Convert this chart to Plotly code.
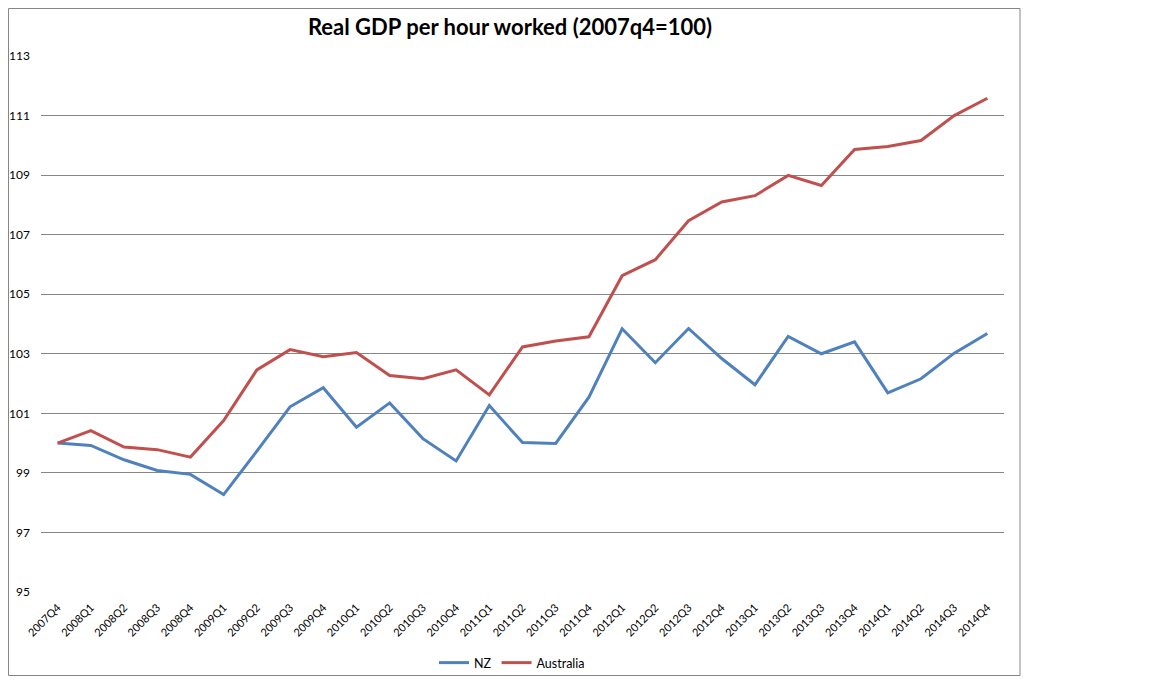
import plotly.graph_objects as go

quarters = ["2007Q4",
            "2008Q1", "2008Q2", "2008Q3", "2008Q4",
            "2009Q1", "2009Q2", "2009Q3", "2009Q4",
            "2010Q1", "2010Q2", "2010Q3", "2010Q4",
            "2011Q1", "2011Q2", "2011Q3", "2011Q4",
            "2012Q1", "2012Q2", "2012Q3", "2012Q4",
            "2013Q1", "2013Q2", "2013Q3", "2013Q4",
            "2014Q1", "2014Q2", "2014Q3", "2014Q4"]

nz = [100.0, 99.92, 99.44, 99.08, 98.95,
      98.27, 99.73, 101.22, 101.86,
      100.53, 101.35, 100.15, 99.40,
      101.26, 100.02, 99.99, 101.54,
      103.84, 102.70, 103.85, 102.84,
      101.96, 103.58, 103.0, 103.40,
      101.69, 102.16, 103.02, 103.68]

australia = [100.0, 100.42, 99.87, 99.78, 99.53,
             100.76, 102.46, 103.14, 102.90,
             103.04, 102.27, 102.16, 102.46,
             101.62, 103.23, 103.43, 103.57,
             105.62, 106.16, 107.47, 108.10,
             108.31, 108.99, 108.65, 109.86,
             109.96, 110.16, 111.0, 111.58]

y_ticks = [95, 97, 99, 101, 103, 105, 107, 109, 111, 113]

# page has an 8px body margin: figure is sized to fit the window exactly
OFF = 8
W, H = 1152 - 2 * OFF, 684 - 2 * OFF
L, R, T, B = 41 - OFF, 1004 - OFF, 56 - OFF, 592 - OFF
pw, ph = R - L, B - T

fig = go.Figure()
fig.add_trace(go.Scatter(x=list(range(len(quarters))), y=nz, mode="lines", name="NZ",
                         line=dict(color="#4F81BD", width=3)))
fig.add_trace(go.Scatter(x=list(range(len(quarters))), y=australia, mode="lines", name="Australia",
                         line=dict(color="#C0504D", width=3)))

fig.update_layout(
    width=W, height=H,
    margin=dict(l=L, r=W - R, t=T, b=H - B, pad=0, autoexpand=False),
    paper_bgcolor="white", plot_bgcolor="white",
    font=dict(family="Lato, Carlito, Arial", size=11, color="#000000"),
    title=dict(text="<b>Real GDP per hour worked (2007q4=100)</b>",
               x=(510 - OFF - L) / pw, xref="paper", xanchor="center",
               y=1 - (27 - OFF) / H, yref="container", yanchor="middle",
               font=dict(family="Lato, Carlito, Arial", size=22, color="#000000")),
    xaxis=dict(range=[-0.5, len(quarters) - 0.5], tickmode="array",
               tickvals=list(range(len(quarters))), ticktext=quarters,
               tickangle=-45, showgrid=False, zeroline=False, showline=False,
               ticks="", tickfont=dict(size=11), ticklabelstandoff=6,
               automargin=False),
    yaxis=dict(range=[95, 113], tickvals=y_ticks, showgrid=True,
               gridcolor="#868686", gridwidth=1, zeroline=False, showline=False,
               ticks="", ticklabelstandoff=10, tickfont=dict(size=12),
               automargin=False),
    legend=dict(orientation="h", x=(512 - OFF - L) / pw, xanchor="center",
                y=(B - (663 - OFF)) / ph, yanchor="middle", font=dict(size=12.5),
                itemwidth=30, bgcolor="rgba(0,0,0,0)"),
    showlegend=True,
)

fig.add_shape(type="rect", xref="paper", yref="paper",
              x0=(0.5 - L) / pw, x1=(1020 - OFF - L) / pw,
              y0=(B - (H - 0.5)) / ph, y1=(B - 0.5) / ph,
              line=dict(color="#868686", width=1), fillcolor="rgba(0,0,0,0)",
              layer="below")

fig.write_html("out.html")
